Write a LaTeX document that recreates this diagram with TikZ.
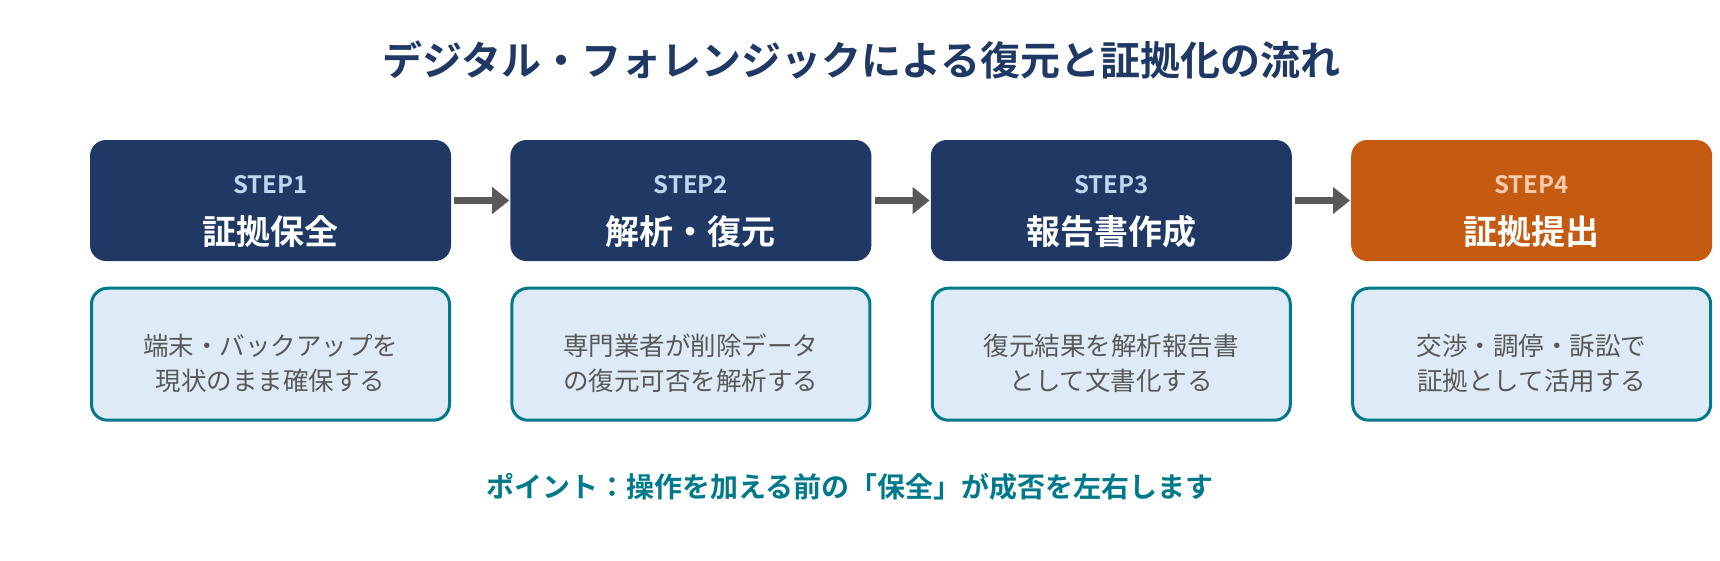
\documentclass[tikz,border=0pt]{standalone}
\usepackage{fontspec}
\setmainfont{Noto Sans CJK JP}[BoldFont={Noto Sans CJK JP Bold}]
\usetikzlibrary{arrows.meta,positioning}

\definecolor{navy}{HTML}{1F3864}
\definecolor{rust}{HTML}{C55A11}
\definecolor{skylbl}{HTML}{BDD7EE}
\definecolor{peachlbl}{HTML}{F8CBAD}
\definecolor{paleblue}{HTML}{DEEBF7}
\definecolor{tealline}{HTML}{007A8A}
\definecolor{bodygray}{HTML}{595959}
\definecolor{arrowgray}{HTML}{595959}

\begin{document}
\begin{tikzpicture}[
    x=1pt, y=1pt,
    node distance=59pt,
    stepbox/.style={rectangle, fill=navy, minimum width=361pt, minimum height=121pt, rounded corners=16pt, inner sep=0pt},
    descbox/.style={rectangle, draw=tealline, line width=3pt, fill=paleblue, minimum width=358pt, minimum height=132pt, rounded corners=16pt, inner sep=0pt},
    steplbl/.style={font=\fontsize{24}{26}\selectfont\bfseries, text=skylbl},
    steptitle/.style={font=\fontsize{34}{38}\selectfont\bfseries, text=white},
    desc/.style={font=\fontsize{25.5}{35}\selectfont, text=bodygray, align=center},
    arrow/.style={-{Triangle[length=17pt, width=26pt]}, line width=6.5pt, arrowgray, shorten <=3pt, shorten >=1pt}
]
\useasboundingbox (0,0) rectangle (1720,-560);

% Title
\node[font=\fontsize{40}{44}\selectfont\bfseries, text=navy] (title) at (861,-60) {デジタル・フォレンジックによる復元と証拠化の流れ};

% Steps
\node[stepbox] (s1) at (270.5,-200.5) {};
\node[stepbox, right=of s1] (s2) {};
\node[stepbox, right=of s2] (s3) {};
\node[stepbox, fill=rust, right=of s3] (s4) {};

% Step labels
\node[steplbl] (s1l) at ([yshift=-45pt]s1.north) {STEP1};
\node[steptitle] (s1t) at ([yshift=-92pt]s1.north) {証拠保全};
\node[steplbl] (s2l) at ([yshift=-45pt]s2.north) {STEP2};
\node[steptitle] (s2t) at ([yshift=-92pt]s2.north) {解析・復元};
\node[steplbl] (s3l) at ([yshift=-45pt]s3.north) {STEP3};
\node[steptitle] (s3t) at ([yshift=-92pt]s3.north) {報告書作成};
\node[steplbl, text=peachlbl] (s4l) at ([yshift=-45pt]s4.north) {STEP4};
\node[steptitle] (s4t) at ([yshift=-92pt]s4.north) {証拠提出};

% Arrows
\draw[arrow] (s1) -- (s2);
\draw[arrow] (s2) -- (s3);
\draw[arrow] (s3) -- (s4);

% Descriptions
\node[descbox, below=25.5pt of s1] (d1) {};
\node[descbox, below=25.5pt of s2] (d2) {};
\node[descbox, below=25.5pt of s3] (d3) {};
\node[descbox, below=25.5pt of s4] (d4) {};

\node[desc] (d1t) at ([yshift=-9pt]d1.center) {端末・バックアップを\\現状のまま確保する};
\node[desc] (d2t) at ([yshift=-9pt]d2.center) {専門業者が削除データ\\の復元可否を解析する};
\node[desc] (d3t) at ([yshift=-9pt]d3.center) {復元結果を解析報告書\\として文書化する};
\node[desc] (d4t) at ([yshift=-9pt]d4.center) {交渉・調停・訴訟で\\証拠として活用する};

% Point
\node[font=\fontsize{28}{30}\selectfont\bfseries, text=tealline] (point) at (850,-487) {ポイント：操作を加える前の「保全」が成否を左右します};

\end{tikzpicture}
\end{document}
